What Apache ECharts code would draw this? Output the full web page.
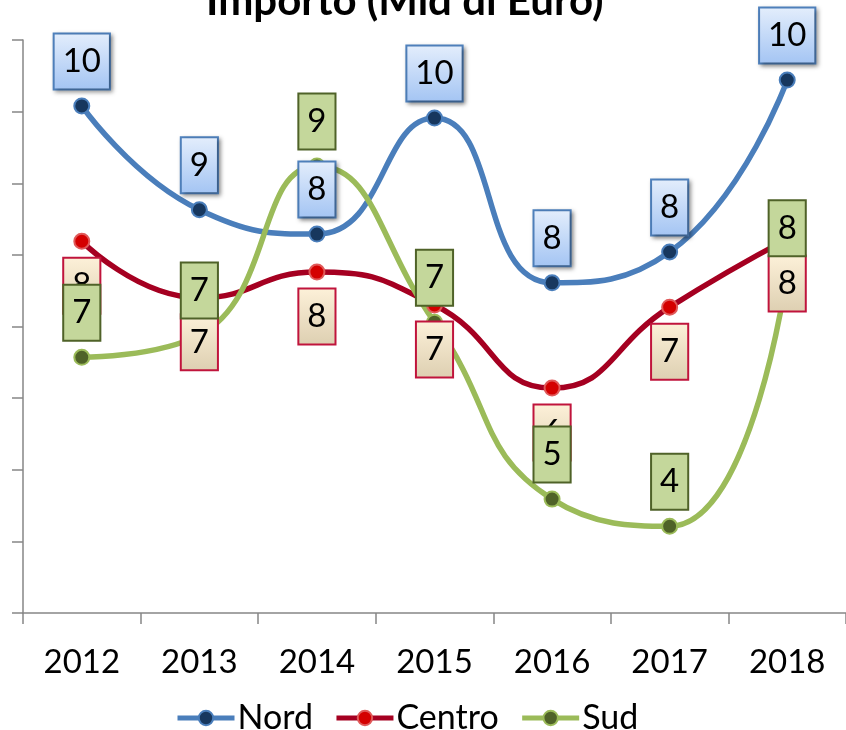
<!DOCTYPE html>
<html>
<head>
<meta charset="utf-8">
<script src="https://cdn.jsdelivr.net/npm/echarts@6/dist/echarts.min.js"></script>
<style>
  html, body { margin: 0; padding: 0; background: #fff; }
  #chart { width: 846px; height: 730px; }
</style>
</head>
<body>
<div id="chart"></div>
<script>
// dati (Mld di Euro)
const anni = ['2012', '2013', '2014', '2015', '2016', '2017', '2018']
const nord = [10.08, 8.63, 8.29, 9.91, 7.61, 8.04, 10.44]
const centro = [8.19, 7.40, 7.76, 7.30, 6.14, 7.27, 8.22]
const sud = [6.57, 6.88, 9.24, 7.06, 4.59, 4.21, 7.75]

const FONT = 'Lato'

const grad = (top, bottom) => new echarts.graphic.LinearGradient(0, 0, 0, 1, [
  { offset: 0, color: top },
  { offset: 1, color: bottom }
])

// serie con linea e marcatori
const lineSeries = (name, data, lineColor, fill, border) => ({
  name,
  type: 'line',
  data,
  smooth: 0.5,
  symbol: 'circle',
  symbolSize: 15,
  lineStyle: { color: lineColor, width: 5.5 },
  itemStyle: { color: fill, borderColor: border, borderWidth: 2 },
  label: { show: false },
  z: 2
})

// serie solo per le etichette, sopra tutte le linee
const labelSeries = (name, data, position, bg, border, shadow) => ({
  name: name + '-etichette',
  type: 'line',
  data,
  symbol: 'circle',
  symbolSize: 15,
  showSymbol: true,
  lineStyle: { width: 0, color: 'rgba(0,0,0,0)' },
  itemStyle: { color: 'rgba(0,0,0,0)', borderWidth: 0 },
  silent: true,
  z: 3,
  label: {
    show: true,
    position,
    distance: 10,
    formatter: p => Math.round(p.value),
    fontFamily: FONT,
    fontSize: 33,
    lineHeight: 38,
    color: '#000',
    padding: [8, 8],
    backgroundColor: bg,
    borderColor: border,
    borderWidth: 2,
    shadowColor: shadow ? 'rgba(0,0,0,0.35)' : 'transparent',
    shadowBlur: shadow ? 4 : 0,
    shadowOffsetX: shadow ? 2 : 0,
    shadowOffsetY: shadow ? 2 : 0
  }
})

const chart = echarts.init(document.getElementById('chart'))

chart.setOption({
  animation: false,
  title: {
    text: 'Importo (Mld di Euro)',
    left: 201,
    top: -25,
    textStyle: { fontFamily: FONT, fontSize: 42, fontWeight: 'bold', color: '#000' }
  },
  legend: {
    top: 696,
    left: 170,
    itemWidth: 57,
    itemHeight: 18,
    itemGap: 21,
    lineStyle: { width: 5 },
    textStyle: { fontFamily: FONT, fontSize: 34, color: '#000', padding: [0, 0, 0, -2] },
    data: ['Nord', 'Centro', 'Sud']
  },
  grid: {
    left: 23,
    top: 40,
    width: 827,
    height: 573
  },
  xAxis: {
    type: 'category',
    data: anni,
    boundaryGap: true,
    axisLine: { lineStyle: { color: '#868686', width: 1.5 } },
    axisTick: { show: true, length: 11, lineStyle: { color: '#868686', width: 1.5 } },
    axisLabel: { fontFamily: FONT, fontSize: 33, color: '#000', margin: 33 }
  },
  yAxis: {
    type: 'value',
    min: 3,
    max: 11,
    interval: 1,
    axisLine: { show: true, lineStyle: { color: '#868686', width: 1.5 } },
    axisTick: { show: true, length: 11, lineStyle: { color: '#868686', width: 1.5 } },
    axisLabel: { show: false },
    splitLine: { show: false }
  },
  series: [
    lineSeries('Nord', nord, '#4a7ebb', '#17375e', '#4a7ebb'),
    lineSeries('Centro', centro, '#a50021', '#d40000', '#e05a5a'),
    lineSeries('Sud', sud, '#9bbb59', '#4f6228', '#9bbb59'),
    labelSeries('Nord', nord, 'top', grad('#e4eefc', '#a3c4f3'), '#4f81bd', true),
    labelSeries('Centro', centro, 'bottom', grad('#fdf1d9', '#ddcfb1'), '#c0143c', false),
    labelSeries('Sud', sud, 'top', '#c4d79b', '#4f6228', false)
  ]
})
</script>
</body>
</html>
